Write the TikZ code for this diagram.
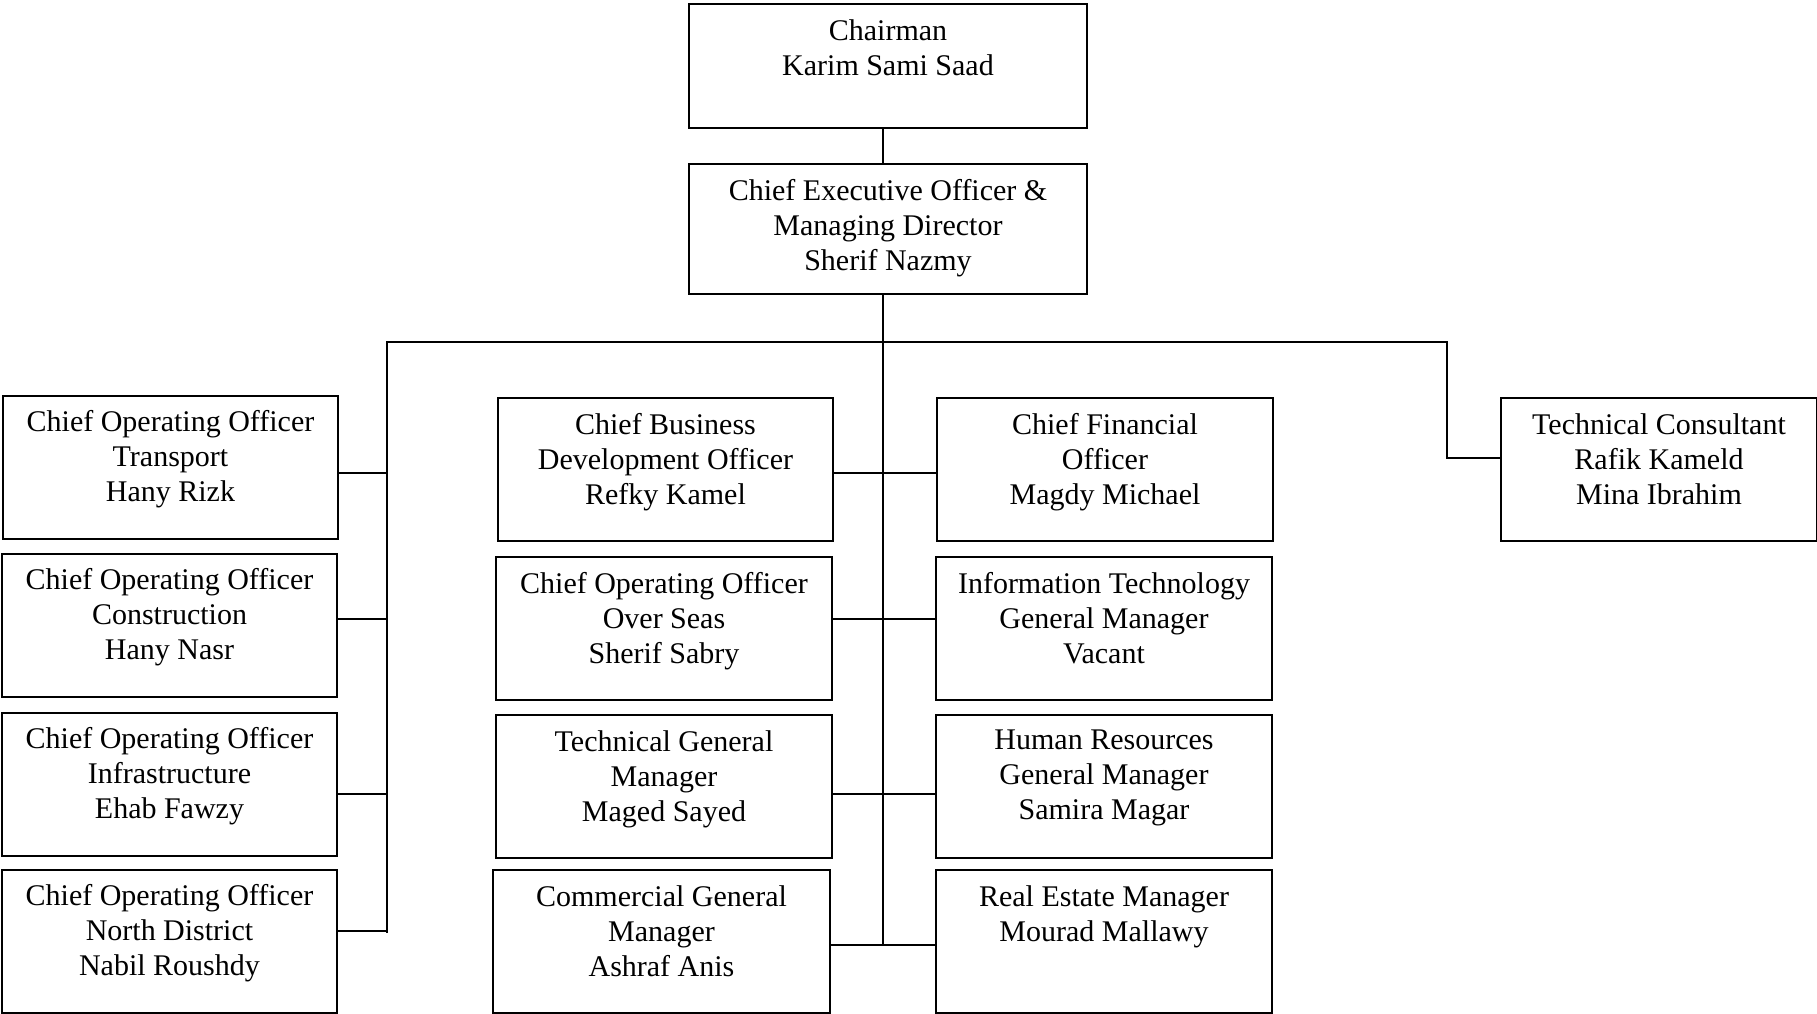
\documentclass[tikz,border=0pt]{standalone}
\usepackage{fontspec}
\setmainfont{Liberation Serif}
\usetikzlibrary{positioning}
\begin{document}
\begin{tikzpicture}[x=1pt,y=-1pt,
  box/.style={draw, line width=2pt, inner sep=0pt, anchor=north west},
  txt/.style={align=center, inner sep=0pt, font=\fontsize{30}{35}\selectfont},
  conn/.style={line width=2.4pt, line cap=rect}]
\useasboundingbox (0,0) rectangle (1817,1013);
% boxes: x1,y1,w,h
\newcommand{\orgbox}[7]{%
  \node[box, minimum width=#4pt, minimum height=#5pt] (#1) at (#2,#3) {};
  \node[txt, below=#6pt of #1.north] (#1t) {#7};}
\orgbox{chair}{688}{3}{398}{124}{16}{Chairman\\Karim Sami Saad}
\orgbox{ceo}{688}{163}{398}{130}{16}{Chief Executive Officer \&\\Managing Director\\Sherif Nazmy}
\orgbox{l1}{2}{395}{335}{143}{15}{Chief Operating Officer\\Transport\\Hany Rizk}
\orgbox{l2}{1}{553}{335}{143}{15}{Chief Operating Officer\\Construction\\Hany Nasr}
\orgbox{l3}{1}{712}{335}{143}{15}{Chief Operating Officer\\Infrastructure\\Ehab Fawzy}
\orgbox{l4}{1}{869}{335}{143}{15}{Chief Operating Officer\\North District\\Nabil Roushdy}
\orgbox{m1}{497}{397}{335}{143}{16}{Chief Business\\Development Officer\\Refky Kamel}
\orgbox{m2}{495}{556}{336}{143}{16}{Chief Operating Officer\\Over Seas\\Sherif Sabry}
\orgbox{m3}{495}{714}{336}{143}{16}{Technical General\\Manager\\Maged Sayed}
\orgbox{m4}{492}{869}{337}{143}{16}{Commercial General\\Manager\\Ashraf Anis}
\orgbox{r1}{936}{397}{336}{143}{16}{Chief Financial\\Officer\\Magdy Michael}
\orgbox{r2}{935}{556}{336}{143}{16}{Information Technology\\General Manager\\Vacant}
\orgbox{r3}{935}{714}{336}{143}{16}{Human Resources\\General Manager\\Samira Magar}
\orgbox{r4}{935}{869}{336}{143}{16}{Real Estate Manager\\Mourad Mallawy}
\orgbox{tc}{1500}{397}{316}{143}{16}{Technical Consultant\\Rafik Kameld\\Mina Ibrahim}
% junction coordinates
\coordinate (cx) at (883,0);
\coordinate (spine) at (883,342);
\coordinate (spineEnd) at (883,945);
\coordinate (busL) at (387,342);
\coordinate (busR) at (1447,342);
\coordinate (tcJ) at (1447,458);
\coordinate (lEnd) at (387,932);
\coordinate (lj1) at (387,473);
\coordinate (lj2) at (387,619);
\coordinate (lj3) at (387,794);
\coordinate (lj4) at (387,931);
\coordinate (mj1) at (883,473);
\coordinate (mj2) at (883,619);
\coordinate (mj3) at (883,794);
\coordinate (mj4) at (883,945);
% connectors
\draw[conn] (chair.south -| cx) -- (ceo.north -| cx);
\draw[conn] (ceo.south -| cx) -- (spine) -- (spineEnd);
\draw[conn] (busL) -- (busR) -- (tcJ) -- (tc.west |- tcJ);
\draw[conn] (busL) -- (lEnd);
\draw[conn] (l1.east |- lj1) -- (lj1);
\draw[conn] (l2.east |- lj2) -- (lj2);
\draw[conn] (l3.east |- lj3) -- (lj3);
\draw[conn] (l4.east |- lj4) -- (lj4);
\draw[conn] (m1.east |- mj1) -- (r1.west |- mj1);
\draw[conn] (m2.east |- mj2) -- (r2.west |- mj2);
\draw[conn] (m3.east |- mj3) -- (r3.west |- mj3);
\draw[conn] (m4.east |- mj4) -- (r4.west |- mj4);
\end{tikzpicture}
\end{document}
